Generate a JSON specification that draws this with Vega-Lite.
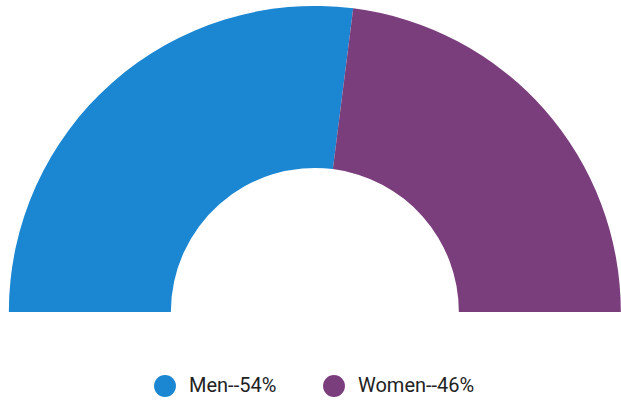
{
  "$schema": "https://vega.github.io/schema/vega-lite/v6.json",
  "width": 621,
  "height": 402,
  "autosize": {"type": "none"},
  "padding": 0,
  "background": "white",
  "view": {"stroke": null},
  "data": {"values": [
    {"group": "Men--54%", "value": 54, "ord": 1},
    {"group": "Women--46%", "value": 46, "ord": 2}
  ]},
  "mark": {"type": "arc", "x": {"expr": "width*0.507"}, "y": {"expr": "height*0.776"}, "radius": 306, "radius2": 144, "stroke": null},
  "encoding": {
    "theta": {"field": "value", "type": "quantitative", "stack": true, "scale": {"range": [-1.5708, 1.5708]}},
    "order": {"field": "ord", "type": "quantitative"},
    "color": {
      "field": "group", "type": "nominal",
      "scale": {"domain": ["Men--54%", "Women--46%"], "range": ["#1b86d1", "#7b3e7d"]},
      "legend": {
        "title": null, "orient": "none", "direction": "horizontal",
        "legendX": 154, "legendY": 375,
        "symbolType": "circle", "symbolSize": 480, "symbolStrokeWidth": 0,
        "labelFont": "Roboto", "labelFontSize": 20, "labelColor": "#222222",
        "labelOffset": 13, "columnPadding": 46, "symbolOffset": 0
      }
    }
  }
}
